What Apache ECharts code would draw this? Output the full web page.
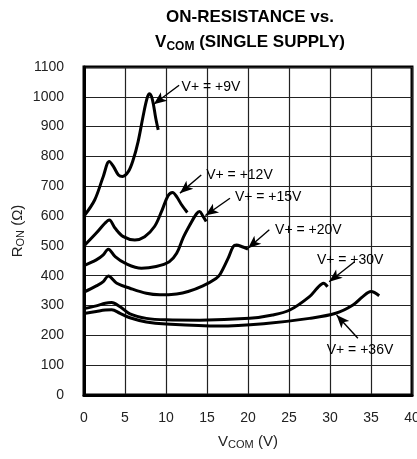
<!DOCTYPE html>
<html>
<head>
<meta charset="utf-8">
<script src="https://cdn.jsdelivr.net/npm/echarts@6/dist/echarts.min.js"></script>
<style>
html, body { margin: 0; padding: 0; background: #fff; }
#chart { width: 417px; height: 459px; }
</style>
</head>
<body>
<div id="chart"></div>
<script>
// V_COM (V) vs R_ON (ohm), one list per supply voltage
var v9 = [[0, 600], [1.3, 654], [2.35, 733], [3.08, 783], [3.6, 766], [4.2, 738], [4.7, 733], [5.4, 749], [6.0, 789], [6.6, 850], [7.2, 934], [7.7, 996], [8.0, 1010], [8.35, 990], [8.75, 928], [9.05, 889]];
var v12 = [[0, 500], [1.5, 543], [2.55, 576], [3.08, 587], [3.8, 559], [4.8, 531], [6.2, 520], [7.4, 531], [8.6, 565], [9.45, 615], [10.25, 668], [10.8, 679], [11.3, 665], [11.9, 638], [12.6, 612]];
var v15 = [[0, 434], [1.5, 453], [2.35, 470], [2.96, 489], [3.8, 464], [5.0, 442], [7.0, 425], [8.8, 431], [10.4, 447], [11.3, 475], [12.1, 528], [12.9, 570], [13.7, 607], [14.1, 615], [14.5, 600], [14.9, 582]];
var v20 = [[0, 345], [1.5, 366], [2.35, 380], [2.96, 399], [4.0, 375], [5.6, 358], [7.6, 341], [9.25, 336], [11.3, 339], [12.7, 347], [14.5, 366], [16.1, 391], [16.6, 405], [17.6, 460], [18.2, 498], [18.6, 503], [19.2, 498], [20.0, 489]];
var v30 = [[0, 290], [1.5, 299], [2.6, 308], [3.37, 310], [4.4, 296], [5.6, 272], [7.6, 257], [10, 252], [14.1, 251], [20.2, 257], [23, 268], [25.1, 285], [27.5, 330], [28.5, 360], [29.2, 375], [29.7, 363]];
var v36 = [[0, 273], [1.5, 280], [2.6, 285], [3.37, 286], [4.4, 274], [5.6, 259], [7.6, 245], [10, 238], [16.5, 231], [22.2, 240], [27.5, 257], [30.7, 274], [32.8, 302], [34, 330], [35, 347], [36, 333]];

var seriesData = [v9, v12, v15, v20, v30, v36];

// annotation text and arrows, in data units: [text pos, arrow tail, arrow tip]
var noteText = ['V+ = +9V', 'V+ = +12V', 'V+ = +15V', 'V+ = +20V', 'V+ = +30V', 'V+ = +36V'];
var notePos = [[11.9, 1033], [14.9, 738], [18.4, 663], [23.3, 554], [28.4, 453], [29.6, 151]];
var noteTail = [[11.6, 1039], [14.3, 738], [17.8, 660], [22.6, 554], [33.0, 447], [33.4, 190]];
var noteTip = [[8.5, 975], [11.7, 677], [14.8, 602], [20.0, 492], [29.9, 380], [30.8, 268]];

var xTicks = [0, 40, 5];
var yTicks = [0, 1100, 100];

var chart = echarts.init(document.getElementById('chart'), null, { renderer: 'canvas' });

var sans = '"Liberation Sans", Arial, sans-serif';

var series = seriesData.map(function (d, i) {
    return {
        type: 'line',
        data: d,
        smooth: 0.35,
        symbol: 'none',
        lineStyle: { color: '#000', width: 3 },
        z: 3,
        markLine: {
            silent: true,
            symbol: ['none', 'arrow'],
            symbolSize: [8, 13],
            lineStyle: { color: '#000', width: 1.4, type: 'solid' },
            label: { show: false },
            data: [[{ coord: noteTail[i] }, { coord: noteTip[i] }]]
        },
        markPoint: {
            silent: true,
            symbol: 'circle',
            symbolSize: 0,
            label: {
                show: true,
                position: 'right',
                distance: 0,
                formatter: noteText[i],
                color: '#000',
                fontFamily: sans,
                fontSize: 14
            },
            data: [{ coord: notePos[i] }]
        }
    };
});

chart.setOption({
    animation: false,
    title: {
        text: '{a|ON-RESISTANCE vs.}\n{a|V}{s|COM}{a| (SINGLE SUPPLY)}',
        left: 245,
        top: 0,
        textAlign: 'center',
        textStyle: {
            rich: {
                a: { fontFamily: sans, fontWeight: 'bold', fontSize: 17, color: '#000', lineHeight: 25 },
                s: { fontFamily: sans, fontWeight: 'bold', fontSize: 12, color: '#000', lineHeight: 25, padding: [8, 0, 0, 0] }
            }
        }
    },
    grid: {
        left: 84, right: 5, top: 67, bottom: 64,
        outerBoundsMode: 'none',
        show: true, borderColor: '#000', borderWidth: 3
    },
    xAxis: {
        type: 'value',
        min: xTicks[0], max: xTicks[1], interval: xTicks[2],
        name: '{r|V}{s|COM}{r| (V)}',
        nameLocation: 'middle',
        nameGap: 38,
        nameMoveOverlap: false,
        nameTextStyle: {
            rich: {
                r: { fontFamily: sans, fontSize: 15, color: '#222' },
                s: { fontFamily: sans, fontSize: 11, color: '#222', padding: [6, 0, 0, 0] }
            }
        },
        axisLine: { show: true, lineStyle: { color: '#000', width: 3 } },
        axisTick: { show: false },
        axisLabel: { margin: 16, color: '#222', fontFamily: sans, fontSize: 14 },
        splitLine: { show: true, lineStyle: { color: '#222', width: 1.2 } }
    },
    yAxis: {
        type: 'value',
        min: yTicks[0], max: yTicks[1], interval: yTicks[2],
        name: '{r|R}{s|ON}{r| (Ω)}',
        nameLocation: 'middle',
        nameGap: 58,
        nameRotate: 90,
        nameMoveOverlap: false,
        nameTextStyle: {
            rich: {
                r: { fontFamily: sans, fontSize: 15, color: '#222' },
                s: { fontFamily: sans, fontSize: 11, color: '#222', padding: [6, 0, 0, 0] }
            }
        },
        axisLine: { show: true, lineStyle: { color: '#000', width: 3 } },
        axisTick: { show: false },
        axisLabel: { margin: 20, color: '#222', fontFamily: sans, fontSize: 14, formatter: function (v) { return String(v); } },
        splitLine: { show: true, lineStyle: { color: '#222', width: 1.2 } }
    },
    series: series
});
</script>
</body>
</html>
